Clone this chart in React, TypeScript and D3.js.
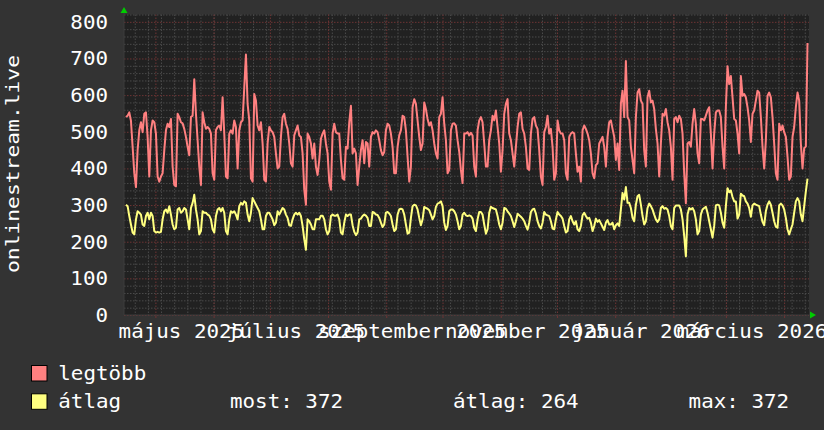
import React from 'react';
import * as d3 from 'd3';

// rrdtool-like yearly graph, dark theme

const WIDTH = 824;
const HEIGHT = 430;
const FONT = '"DejaVu Sans Mono", monospace';
const FS = 19.5;
const SX = 1.07; // glyphs are a bit wider than the normal mono face

const monthLabels = ['május 2025', 'július 2025', 'szeptember 2025', 'november 2025', 'január 2026', 'március 2026'];
const monthLabelDates = [
    new Date(2025, 4, 1), new Date(2025, 6, 1), new Date(2025, 8, 1),
    new Date(2025, 10, 1), new Date(2026, 0, 1), new Date(2026, 2, 1)
];
const yTicks = [0, 100, 200, 300, 400, 500, 600, 700, 800];
const seriesNames = ['legtöbb', 'átlag'];
const seriesColors = ['#ff8080', '#ffff80'];
const legendStats = ['most: 372', 'átlag: 264', 'max: 372'];

const legtobb = [
    540, 544, 553, 530, 459, 387, 349, 450, 504, 526,
    499, 549, 553, 486, 378, 504, 531, 526, 495, 378,
    364, 378, 387, 450, 504, 522, 513, 535, 405, 355,
    351, 549, 540, 526, 523, 508, 486, 459, 436, 540,
    544, 643, 549, 477, 405, 355, 553, 526, 508, 513,
    508, 495, 387, 369, 504, 513, 517, 504, 594, 495,
    378, 373, 495, 504, 495, 531, 513, 400,
    504, 526, 531, 621, 711, 576, 531, 373, 364, 603,
    585, 517, 504, 526, 468, 369, 364, 468, 513, 504,
    499, 486, 441, 400, 405, 486, 540, 549, 522, 508,
    468, 414, 405, 490, 504, 517, 490, 486, 441, 342,
    301, 495, 486, 468, 427, 468, 405, 382, 423, 481,
    495, 504, 468, 441, 364, 342, 495, 522, 499, 495,
    495, 423, 373, 369, 459, 454, 526, 571,
    441, 454, 441, 355, 405, 450, 477, 414, 472, 468,
    405, 486, 499, 495, 504, 499, 477, 450, 436, 445,
    504, 522, 517, 495, 459, 387, 387, 459, 490, 504,
    544, 540, 504, 432, 364, 405, 567, 589, 576, 531,
    486, 450, 468, 580, 562, 535, 517, 526, 504, 468,
    441, 427, 540, 549, 594, 522, 477, 387, 396, 504,
    522, 523, 517, 477, 445, 396, 360, 495,
    495, 499, 490, 497, 490, 405, 378, 504, 531, 540,
    526, 468, 405, 405, 477, 504, 544, 531, 558, 513,
    468, 391, 450, 549, 576, 589, 495, 477, 441, 405,
    459, 513, 549, 553, 508, 495, 459, 400, 396, 495,
    535, 540, 517, 508, 450, 378, 355, 499, 513, 544,
    495, 508, 459, 369, 387, 531, 504, 495, 495, 477,
    387, 369, 486, 495, 499, 495, 441, 391,
    405, 364, 504, 517, 508, 495, 477, 441, 387, 373,
    409, 414, 468, 477, 486, 459, 405, 486, 526, 531,
    508, 486, 423, 468, 396, 576, 612, 540, 693, 540,
    531, 459, 423, 387, 540, 607, 616, 585, 576, 450,
    405, 594, 612, 580, 585, 562, 508, 468, 378, 468,
    549, 544, 562, 526, 504, 459, 369, 535, 540, 526,
    544, 535, 495, 387, 305, 468, 472, 459,
    522, 562, 522, 441, 414, 535, 535, 531, 544, 558,
    567, 495, 400, 495, 553, 558, 558, 540, 459, 400,
    567, 679, 630, 652, 594, 535, 531, 495, 441, 652,
    598, 603, 594, 567, 531, 472, 549, 558, 585, 612,
    607, 540, 459, 400, 477, 598, 607, 594, 540, 468,
    387, 369, 522, 504, 517, 499, 486, 432, 369, 378,
    486, 513, 567, 607, 585, 468, 400, 455, 460, 742
];

const atlag = [
    301, 297, 270, 247, 225, 220, 261, 283, 279, 274,
    247, 243, 270, 279, 261, 279, 270, 229, 225, 227,
    225, 227, 261, 283, 288, 279, 297, 274, 247, 234,
    238, 288, 292, 279, 283, 292, 288, 261, 234, 292,
    306, 328, 288, 261, 220, 229, 283, 279, 279, 274,
    271, 261, 234, 225, 270, 288, 292, 283, 292, 279,
    229, 220, 261, 283, 279, 283, 274, 261,
    297, 306, 301, 310, 306, 274, 256, 279, 319, 310,
    301, 292, 283, 261, 234, 234, 270, 279, 279, 270,
    261, 245, 252, 283, 274, 283, 292, 288, 274, 265,
    245, 243, 261, 274, 279, 274, 279, 270, 243, 207,
    178, 261, 256, 247, 234, 234, 261, 261, 261, 271,
    271, 261, 234, 220, 229, 270, 274, 271, 271, 274,
    261, 225, 220, 252, 274, 270, 274, 274,
    245, 227, 218, 225, 261, 263, 270, 274, 271, 265,
    243, 243, 281, 279, 274, 273, 265, 252, 240, 247,
    279, 281, 277, 270, 247, 229, 234, 274, 288, 290,
    288, 274, 247, 222, 225, 265, 297, 301, 299, 288,
    265, 245, 261, 295, 292, 290, 286, 274, 261, 270,
    295, 304, 306, 310, 297, 252, 232, 243, 283, 288,
    288, 283, 274, 256, 234, 243, 274, 279,
    272, 270, 272, 270, 263, 238, 229, 261, 281, 281,
    274, 247, 222, 234, 279, 295, 292, 290, 288, 270,
    247, 234, 252, 292, 290, 283, 277, 270, 256, 240,
    256, 276, 272, 268, 263, 256, 243, 233, 252, 281,
    288, 290, 277, 256, 243, 236, 252, 281, 274, 272,
    270, 256, 236, 234, 261, 281, 274, 270, 263, 243,
    225, 229, 261, 270, 256, 247, 256, 234,
    229, 243, 272, 279, 270, 263, 265, 252, 229, 243,
    263, 254, 259, 250, 241, 232, 252, 259, 247, 247,
    252, 234, 245, 250, 243, 288, 333, 315, 349, 306,
    306, 292, 265, 256, 301, 324, 328, 301, 270, 247,
    256, 292, 304, 297, 288, 274, 261, 254, 261, 292,
    297, 290, 292, 288, 270, 243, 234, 292, 299, 299,
    299, 288, 261, 216, 160, 274, 292, 288,
    292, 283, 261, 220, 229, 274, 288, 292, 295, 279,
    256, 234, 211, 243, 299, 301, 299, 279, 252, 238,
    297, 346, 335, 340, 322, 310, 310, 263, 274, 331,
    326, 324, 310, 304, 292, 268, 299, 304, 301, 299,
    297, 274, 254, 245, 283, 301, 310, 301, 279, 256,
    241, 238, 299, 304, 299, 288, 265, 234, 220, 234,
    247, 279, 310, 319, 310, 274, 256, 297, 337, 372
];

// graph window and sample times
const T0 = new Date(2025, 3, 14);
const T1 = new Date(2026, 3, 14);
const S0 = new Date(2025, 3, 15, 1);
const S1 = new Date(2026, 3, 13, 5);

const PL = 124, PR = 809, PT = 14.5, PB = 315;

const Txt: React.FC<{ x: number; y: number; anchor?: string; children: React.ReactNode }> = ({ x, y, anchor = 'start', children }) => (
    <text
        transform={`translate(${x},${y}) scale(${SX},1)`}
        textAnchor={anchor}
        fontFamily={FONT}
        fontSize={FS}
        fill="#ffffff"
    >
        {children}
    </text>
);

export default function App() {
    const x = d3.scaleTime().domain([T0, T1]).range([PL, PR]);
    const y = d3.scaleLinear().domain([0, 820]).range([PB, PT]);

    const n = legtobb.length;
    const times = d3.range(n).map(i => new Date(+S0 + (i * (+S1 - +S0)) / (n - 1)));
    const line = d3.line<number>()
        .x((_d: number, i: number) => x(times[i]))
        .y((d: number) => y(d));

    const minorY = d3.range(0, 821, 20).filter(v => v % 100 !== 0);
    const weeks = d3.timeSunday.range(T0, T1);
    const months = d3.timeMonth.range(T0, T1);

    const gridMinor = '#4a4a4a';
    const gridMajor = '#6e3434';

    return (
        <svg width={WIDTH} height={HEIGHT} style={{ position: 'absolute', left: 0, top: 0, display: 'block' }}>
            <rect x={0} y={0} width={WIDTH} height={HEIGHT} fill="#333333" />
            <rect x={PL} y={PT} width={PR - PL} height={PB - PT} fill="#212121" />

            {/* minor grid */}
            {minorY.map(v => (
                <line key={'hy' + v} x1={PL} x2={PR} y1={y(v) + 0.5} y2={y(v) + 0.5}
                    stroke={gridMinor} strokeDasharray="1.5,1.5" />
            ))}
            {weeks.map(d => (
                <line key={'vw' + +d} x1={x(d)} x2={x(d)} y1={PT} y2={PB}
                    stroke={gridMinor} strokeDasharray="1.5,1.5" />
            ))}
            {/* major grid */}
            {yTicks.map(v => (
                <line key={'my' + v} x1={PL} x2={PR} y1={y(v) + 0.5} y2={y(v) + 0.5}
                    stroke={gridMajor} strokeDasharray="1.5,1.5" />
            ))}
            {months.map(d => (
                <g key={'mm' + +d}>
                    <line x1={x(d)} x2={x(d)} y1={PT} y2={PB}
                        stroke={gridMajor} strokeDasharray="1.5,1.5" />
                    <line x1={x(d)} x2={x(d)} y1={PB} y2={PB + 3} stroke={gridMajor} />
                </g>
            ))}

            {/* axes */}
            <line x1={PL} x2={PL} y1={PT - 4} y2={PB} stroke="#3c3c3c" />
            <line x1={PL} x2={PR + 3} y1={PB} y2={PB} stroke="#3c3c3c" />
            <polygon points={`${PL - 3.5},13 ${PL + 3.5},13 ${PL},7`} fill="#00cc00" />
            <polygon points={`${PR + 1},${PB - 3.5} ${PR + 1},${PB + 3.5} ${PR + 7},${PB}`} fill="#00cc00" />

            {/* series */}
            <path d={line(legtobb) || ''} fill="none" stroke={seriesColors[0]} strokeWidth={2} strokeLinejoin="round" />
            <path d={line(atlag) || ''} fill="none" stroke={seriesColors[1]} strokeWidth={2} strokeLinejoin="round" />

            {/* y labels */}
            {yTicks.map(v => (
                <Txt key={'yl' + v} x={108} y={y(v) + 7} anchor="end">{String(v)}</Txt>
            ))}

            {/* x labels */}
            {monthLabelDates.map((d, i) => (
                <Txt key={'xl' + i} x={x(d) + 25.5} y={337.5} anchor="middle">{monthLabels[i]}</Txt>
            ))}

            {/* vertical title */}
            <text
                transform="translate(18.5,164) rotate(-90)"
                textAnchor="middle"
                fontFamily={FONT}
                fontSize={18}
                fill="#ffffff"
                textLength={218}
                lengthAdjust="spacingAndGlyphs"
            >
                onlinestream.live
            </text>

            {/* legend */}
            {seriesNames.map((name, i) => (
                <g key={'lg' + i}>
                    <rect x={31.5} y={365.5 + i * 28.3} width={15.5} height={15.5}
                        fill={seriesColors[i]} stroke="#000000" strokeWidth={1} />
                    <Txt x={58.3} y={380 + i * 28.3}>{name}</Txt>
                </g>
            ))}
            {legendStats.map((s, i) => (
                <Txt key={'ls' + i} x={[230, 453, 688.6][i]} y={408.3}>{s}</Txt>
            ))}
        </svg>
    );
}
